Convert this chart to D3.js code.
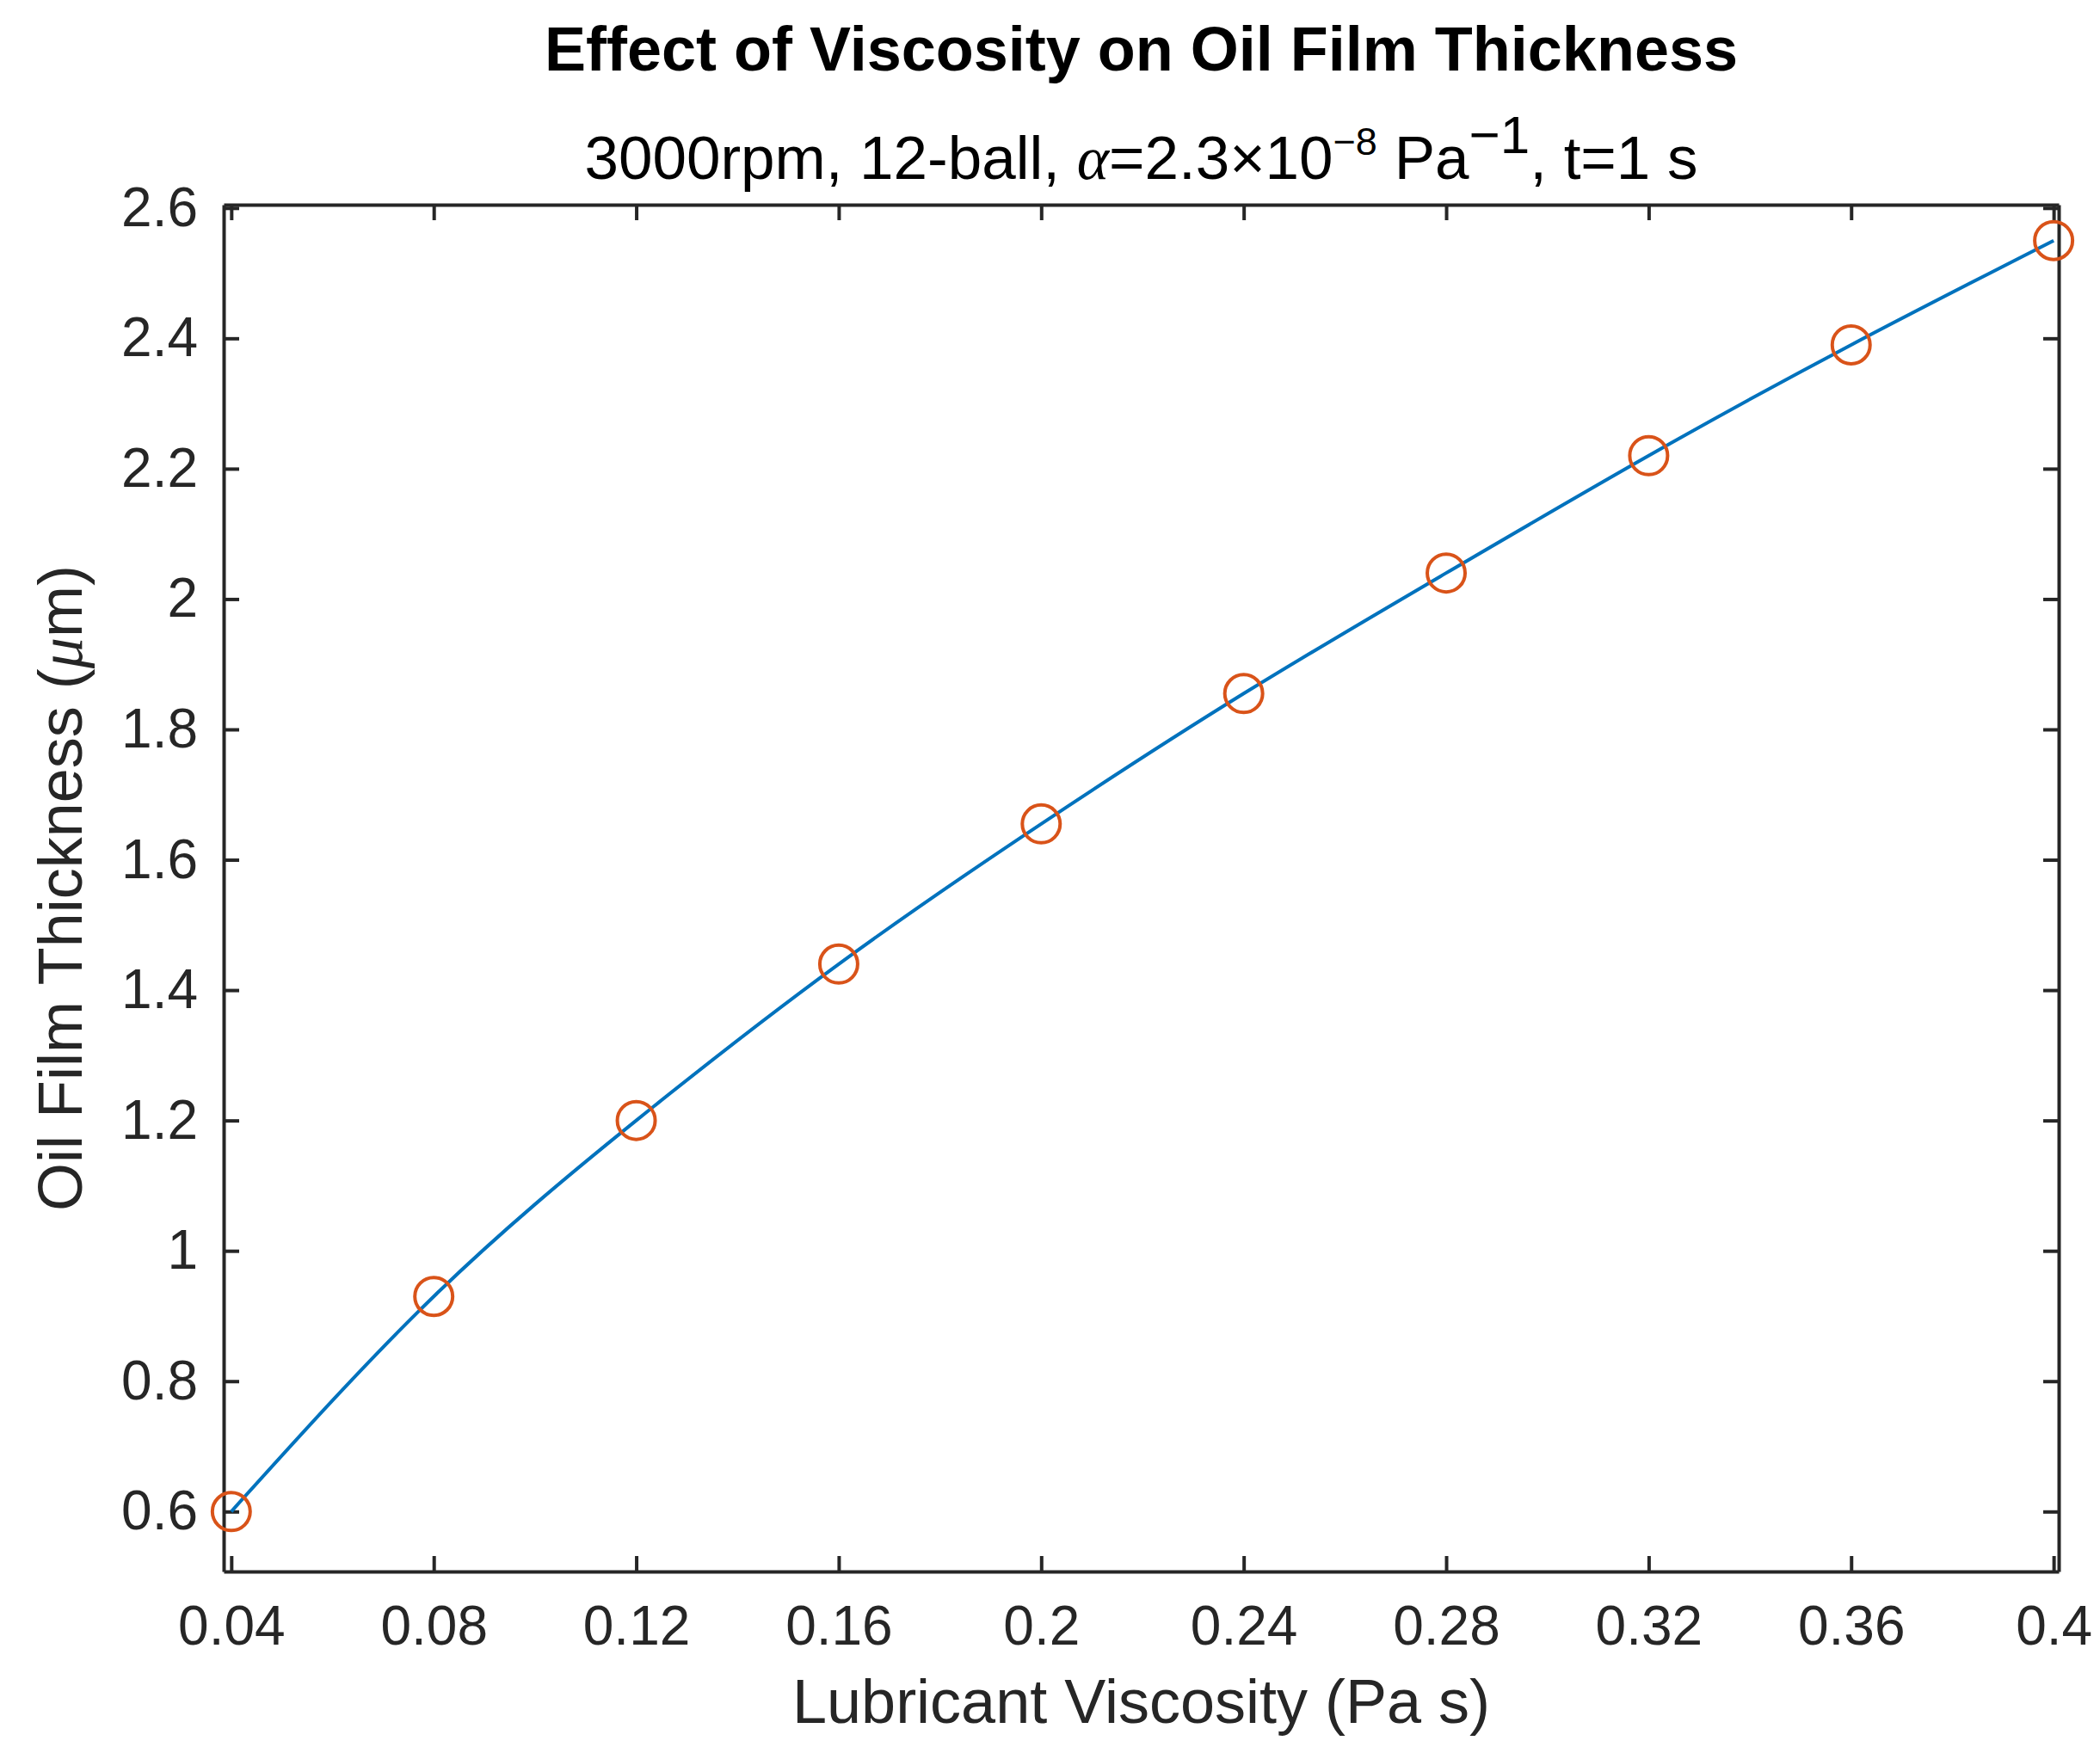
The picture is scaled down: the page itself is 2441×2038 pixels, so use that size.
<!DOCTYPE html><html><head><meta charset="utf-8"><script src="https://cdn.jsdelivr.net/npm/d3@7"></script>
<style>body{margin:0;background:#fff}svg{font-family:"Liberation Sans",Arial,sans-serif}</style></head><body>
<svg id="c" width="2441" height="2038"></svg>
<script>
const viscosity=[0.04,0.08,0.12,0.16,0.20,0.24,0.28,0.32,0.36,0.40];
const thickness=[0.600,0.930,1.200,1.440,1.655,1.855,2.040,2.220,2.390,2.550];
const xTicks=[0.04,0.08,0.12,0.16,0.2,0.24,0.28,0.32,0.36,0.4];
const yTicks=[0.6,0.8,1,1.2,1.4,1.6,1.8,2,2.2,2.4,2.6];
const L=260,R=2393,T=238,B=1827,ax="#262626";
const svg=d3.select("#c");
const x=d3.scaleLinear().domain([0.0385,0.401]).range([L,R]);
const y=d3.scaleLinear().domain([0.508,2.605]).range([B,T]);
const fmt=d=>String(+d.toFixed(2));
const tl=18;
const gx=svg.append("g").attr("transform",`translate(0,${B})`).call(d3.axisBottom(x).tickValues(xTicks).tickFormat(fmt).tickSizeInner(-tl).tickSizeOuter(0).tickPadding(40));
const gxt=svg.append("g").attr("transform",`translate(0,${T})`).call(d3.axisTop(x).tickValues(xTicks).tickFormat("").tickSizeInner(-tl).tickSizeOuter(0));
const gy=svg.append("g").attr("transform",`translate(${L},0)`).call(d3.axisLeft(y).tickValues(yTicks).tickFormat(fmt).tickSizeInner(-tl).tickSizeOuter(0).tickPadding(30));
const gyr=svg.append("g").attr("transform",`translate(${R},0)`).call(d3.axisRight(y).tickValues(yTicks).tickFormat("").tickSizeInner(-tl).tickSizeOuter(0));
[gx,gxt,gy,gyr].forEach(g=>{g.selectAll("path.domain").attr("stroke",ax).attr("stroke-width",4);g.selectAll("line").attr("stroke",ax).attr("stroke-width",4);g.selectAll("text").attr("fill",ax).attr("font-size",64);});
const pts=viscosity.map((v,i)=>[x(v),y(thickness[i])]);
svg.append("path").attr("d",d3.line().curve(d3.curveNatural)(pts)).attr("fill","none").attr("stroke","#0072BD").attr("stroke-width",4);
svg.selectAll("circle").data(pts).join("circle").attr("cx",d=>d[0]).attr("cy",d=>d[1]).attr("r",22).attr("fill","none").attr("stroke","#D95319").attr("stroke-width",4);
const cx=(L+R)/2;
svg.append("text").attr("x",cx).attr("y",82).attr("text-anchor","middle").attr("font-size",72).attr("font-weight","bold").attr("fill","#000").text("Effect of Viscosity on Oil Film Thickness");
const st=svg.append("text").attr("x",cx).attr("y",208).attr("text-anchor","middle").attr("font-size",71).attr("fill","#000");
st.append("tspan").text("3000rpm, 12-ball, ");
st.append("tspan").attr("font-family","Liberation Serif,serif").attr("font-style","italic").text("α");
st.append("tspan").text("=2.3×10");
st.append("tspan").attr("font-size",45).attr("dy",-28).text("−8");
st.append("tspan").attr("dy",28).text(" Pa");
st.append("tspan").attr("font-size",62).attr("dy",-30).text("−1");
st.append("tspan").attr("dy",30).text(", t=1 s");
svg.append("text").attr("x",cx).attr("y",2003).attr("text-anchor","middle").attr("font-size",72).attr("fill",ax).text("Lubricant Viscosity (Pa s)");
const yl=svg.append("text").attr("transform",`translate(95,${(T+B)/2}) rotate(-90)`).attr("text-anchor","middle").attr("font-size",72).attr("fill",ax);
yl.append("tspan").text("Oil Film Thickness (");
yl.append("tspan").attr("font-family","Liberation Serif,serif").attr("font-style","italic").text("μ");
yl.append("tspan").text("m)");
</script></body></html>
